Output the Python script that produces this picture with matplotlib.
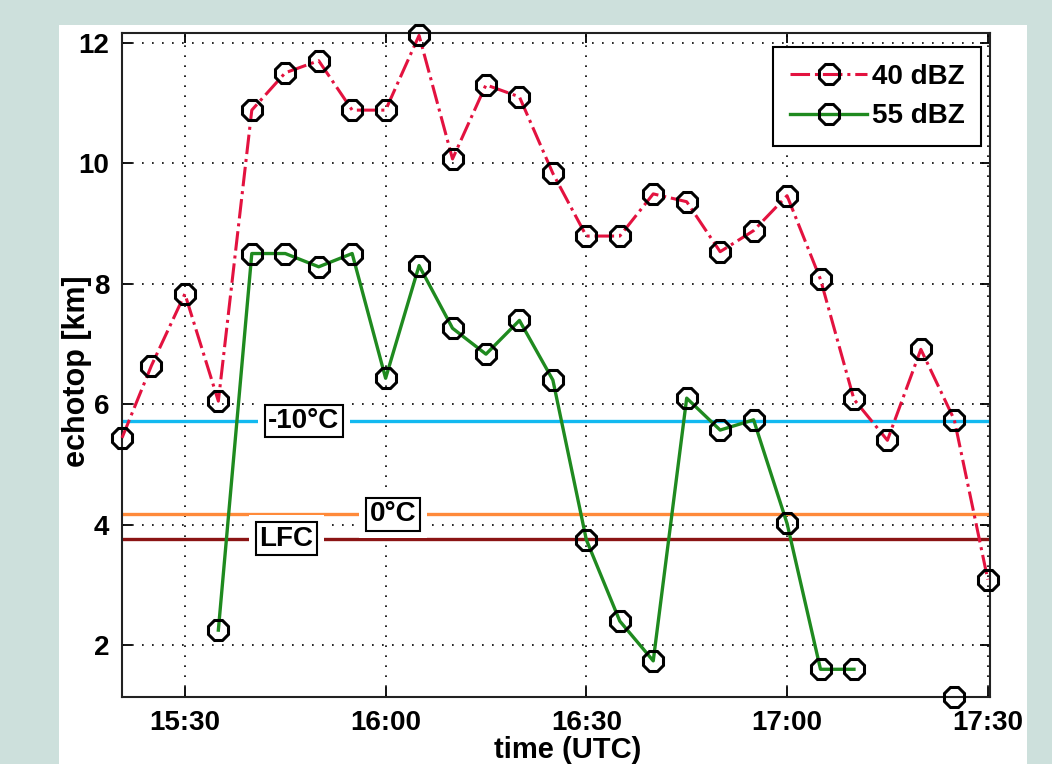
import numpy as np
import pandas as pd
import matplotlib
matplotlib.use('Agg')
import matplotlib.pyplot as plt
import matplotlib.dates as mdates
from matplotlib.patches import Rectangle

plt.rcParams['font.family'] = ['Liberation Sans', 'DejaVu Sans']
plt.rcParams['font.weight'] = 'bold'
plt.rcParams['axes.labelweight'] = 'bold'

# 数据: 观测时间 (UTC) 和两个阈值的回波顶高
times = ['15:20:36', '15:25', '15:30', '15:35', '15:40', '15:45', '15:50', '15:55',
         '16:00', '16:05', '16:10', '16:15', '16:20', '16:25', '16:30', '16:35',
         '16:40', '16:45', '16:50', '16:55', '17:00', '17:05', '17:10', '17:15',
         '17:20', '17:25', '17:30']
top_40dbz = [5.44, 6.64, 7.83, 6.05, 10.88, 11.5, 11.7, 10.88, 10.88, 12.12, 10.07,
             11.3, 11.1, 9.83, 8.79, 8.79, 9.49, 9.36, 8.53, 8.88, 9.46, 8.07,
             6.08, 5.40, 6.91, 5.74, 3.09]
top_55dbz = [np.nan, np.nan, np.nan, 2.25, 8.5, 8.5, 8.28, 8.5, 6.43, 8.3, 7.26,
             6.83, 7.39, 6.4, 3.75, 2.4, 1.74, 6.1, 5.57, 5.74, 4.02, 1.6, 1.6,
             np.nan, np.nan, 1.14, np.nan]

# 参考高度
levels = [5.72, 4.17, 3.77]
level_names = ['-10°C', '0°C', 'LFC']
level_colors = ['#12b9f0', '#ff8a3a', '#8b1414']
label_times = ['15:47:48', '16:01:06', '15:45:10']

t = pd.to_datetime(['2000-01-01 ' + (s if s.count(':') == 2 else s + ':00') for s in times])
lt = pd.to_datetime(['2000-01-01 ' + s for s in label_times])

fig = plt.figure(figsize=(10.52, 7.64), dpi=100, facecolor='#cde0dc')
fig.patches.append(Rectangle((59 / 1052, 0), (1027 - 59) / 1052, (764 - 25) / 764,
                             transform=fig.transFigure, facecolor='white',
                             edgecolor='none', zorder=-10))
ax = fig.add_axes([122 / 1052, 67 / 764, 868 / 1052, 664 / 764])

for y, c in zip(levels, level_colors):
    ax.axhline(y, color=c, lw=2.4, zorder=2)

ax.plot(t, top_40dbz, color='#e3123f', ls='-.', lw=2.2, marker='8', ms=15,
        mfc='none', mec='black', mew=2.2, label='40 dBZ', zorder=4, clip_on=False)
ax.plot(t, top_55dbz, color='#1f8a1f', ls='-', lw=2.4, marker='8', ms=15,
        mfc='none', mec='black', mew=2.2, label='55 dBZ', zorder=4, clip_on=False)

for name, x, y in zip(level_names, lt, levels):
    ax.text(x, y, name, fontsize=20, ha='center', va='center', zorder=5,
            bbox=dict(boxstyle='square,pad=0.38', fc='white', ec='none'))
    ax.text(x, y, name, fontsize=20, ha='center', va='center', zorder=6,
            bbox=dict(boxstyle='square,pad=0.12', fc='white', ec='black', lw=1.5))

ax.set_xlim(pd.Timestamp('2000-01-01 15:20:36'), pd.Timestamp('2000-01-01 17:30:20'))
ax.set_ylim(1.14, 12.16)
ax.set_yticks([2, 4, 6, 8, 10, 12])
ax.xaxis.set_major_locator(mdates.MinuteLocator(byminute=[0, 30]))
ax.xaxis.set_major_formatter(mdates.DateFormatter('%H:%M'))

ax.grid(True, color='black', ls=(0, (1, 5)), lw=1.2)
ax.tick_params(direction='in', length=7, width=1.3, labelsize=20, top=True, right=True)
ax.tick_params(axis='y', pad=9)
ax.tick_params(axis='x', pad=9)
for sp in ax.spines.values():
    sp.set_linewidth(1.5)
    sp.set_color('#222222')

ax.set_xlabel('time (UTC)', fontsize=21)
ax.xaxis.set_label_coords(0.514, -0.058)
ax.set_ylabel('echotop [km]', fontsize=22)
ax.yaxis.set_label_coords(-0.035, 0.49)

leg = ax.legend(loc='upper right', bbox_to_anchor=(0.9896, 0.979), borderaxespad=0,
                fontsize=20, fancybox=False, framealpha=1, edgecolor='black',
                handlelength=2.8, borderpad=0.6, labelspacing=0.5, handletextpad=0.15)
leg.get_frame().set_linewidth(1.5)

fig.savefig('out.png', dpi=100, facecolor=fig.get_facecolor())
